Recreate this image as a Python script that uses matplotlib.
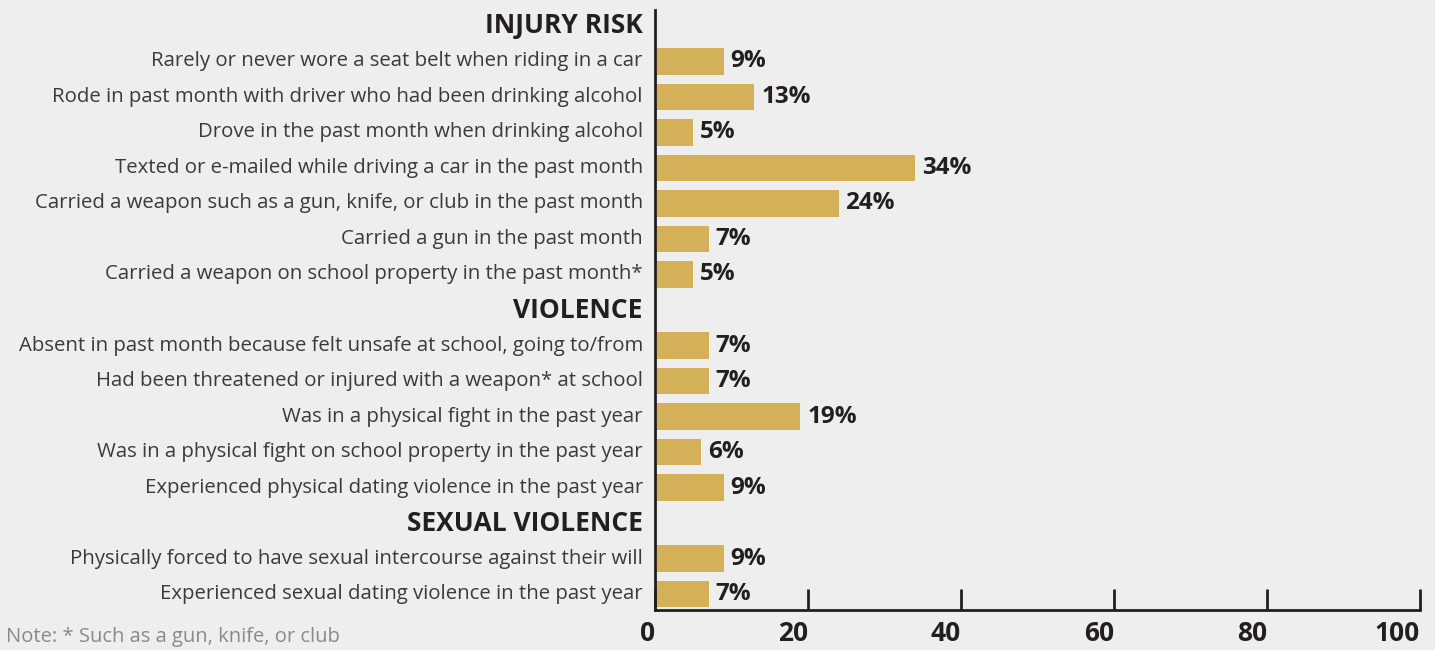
import matplotlib.pyplot as plt
import numpy as np

plt.rcParams['font.family'] = ['Open Sans', 'DejaVu Sans']

# data
groups = ['INJURY RISK', 'VIOLENCE', 'SEXUAL VIOLENCE']
labels = [
    ['Rarely or never wore a seat belt when riding in a car',
     'Rode in past month with driver who had been drinking alcohol',
     'Drove in the past month when drinking alcohol',
     'Texted or e-mailed while driving a car in the past month',
     'Carried a weapon such as a gun, knife, or club in the past month',
     'Carried a gun in the past month',
     'Carried a weapon on school property in the past month*'],
    ['Absent in past month because felt unsafe at school, going to/from',
     'Had been threatened or injured with a weapon* at school',
     'Was in a physical fight in the past year',
     'Was in a physical fight on school property in the past year',
     'Experienced physical dating violence in the past year'],
    ['Physically forced to have sexual intercourse against their will',
     'Experienced sexual dating violence in the past year'],
]
values = [
    [9, 13, 5, 34, 24, 7, 5],
    [7, 7, 19, 6, 9],
    [9, 7],
]
xticks = [0, 20, 40, 60, 80, 100]
note = 'Note: * Such as a gun, knife, or club'

bg = '#EEEEEE'
bar_col = '#D4B058'
dark = '#231F20'

fig = plt.figure(figsize=(14.35, 6.5), dpi=100, facecolor=bg)
ax = fig.add_axes([655/1435, 1-610/650, 765/1435, 600/650])
ax.set_facecolor(bg)

pos = 0
for g, labs, vals in zip(groups, labels, values):
    ax.text(-1.6, pos, g, ha='right', va='center', fontsize=19,
            fontweight='bold', color=dark)
    pos += 1
    for lab, v in zip(labs, vals):
        ax.barh(pos, v, height=0.74, color=bar_col)
        ax.text(-1.6, pos, lab, ha='right', va='center', fontsize=14.7,
                color='#3A3A3A')
        ax.text(v + 0.9, pos, f'{v}%', ha='left', va='center', fontsize=17.5,
                fontweight='bold', color=dark)
        pos += 1

ax.set_xlim(0, 100)
ax.set_ylim(pos - 0.55, -0.45)
ax.set_yticks([])
ax.set_xticks(xticks)
ax.set_xticklabels([str(t) for t in xticks], fontsize=19, fontweight='bold',
                   color=dark, ha='right')
ax.tick_params(axis='x', direction='in', length=15, width=2, color=dark, pad=7)
for s in ['top', 'right']:
    ax.spines[s].set_visible(False)
for s in ['left', 'bottom']:
    ax.spines[s].set_linewidth(2)
    ax.spines[s].set_color(dark)

fig.text(6/1435, 1-637/650, note, fontsize=14.5, color='#8A8A8A',
         ha='left', va='center')

fig.savefig('out.png', dpi=100, facecolor=bg)
